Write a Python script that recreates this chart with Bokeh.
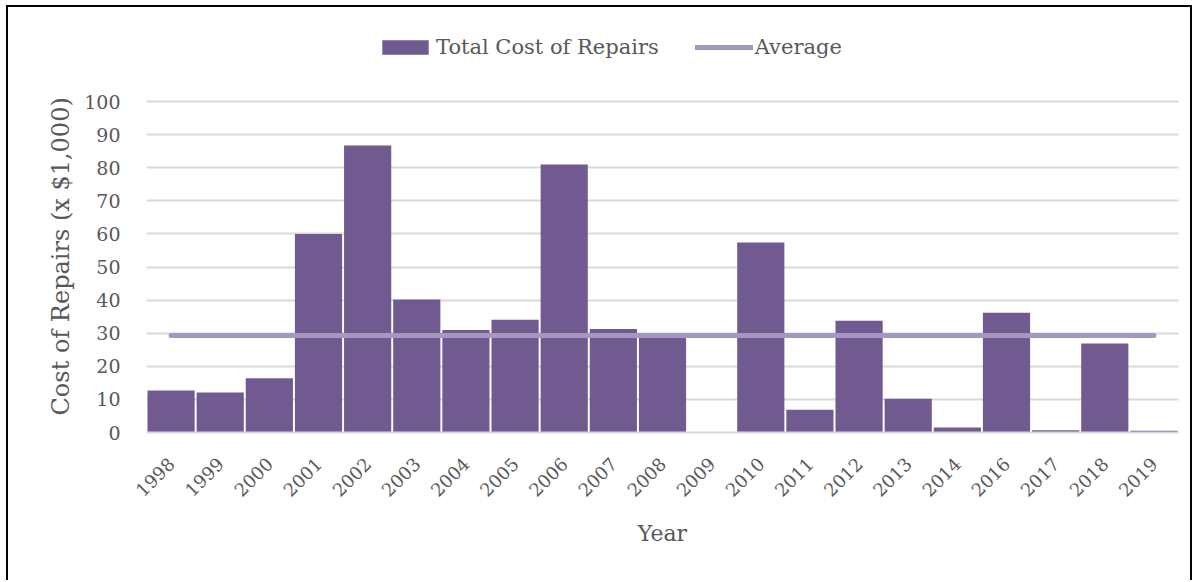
import math
from bokeh.plotting import figure
from bokeh.models import Range1d, Legend, LegendItem, ColumnDataSource, Title
from bokeh.embed import file_html
from bokeh.resources import INLINE

years = ["1998", "1999", "2000", "2001", "2002", "2003", "2004", "2005", "2006", "2007",
         "2008", "2009", "2010", "2011", "2012", "2013", "2014", "2016", "2017", "2018", "2019"]
total_cost = [12.7, 12.1, 16.4, 60.0, 86.7, 40.2, 31.0, 34.1, 81.0, 31.3,
              29.0, 0.0, 57.4, 6.9, 33.8, 10.2, 1.5, 36.2, 0.7, 26.9, 0.5]
average = [29.3] * len(years)
y_ticks = [0, 10, 20, 30, 40, 50, 60, 70, 80, 90, 100]

FONT = "DejaVu Serif"
TXT = "#595959"
BAR = "#705A8F"
AVG = "#A597C0"
GRID = "#D9D9D9"

# frame extends above the 100 line so the legend can sit inside it
p = figure(x_range=years, y_range=Range1d(0, 125.1), width=1186, height=575,
           output_backend="svg", toolbar_location=None,
           min_border_left=138, min_border_right=16, min_border_top=11, min_border_bottom=150)
p.styles = {"border-top": "2px solid black", "border-left": "2px solid black",
            "border-right": "2px solid black", "margin-left": "6px", "margin-top": "5px"}
p.outline_line_color = None

src = ColumnDataSource(dict(year=years, cost=total_cost, avg=average))
bars = p.vbar(x="year", top="cost", width=0.96, source=src, fill_color=BAR, line_color=None)
line = p.line(x="year", y="avg", source=src, line_color=AVG, line_width=5, line_cap="round")

p.yaxis.ticker = y_ticks
p.yaxis.axis_line_color = None
p.yaxis.major_tick_line_color = None
p.yaxis.minor_tick_line_color = None
p.yaxis.major_label_text_font = FONT
p.yaxis.major_label_text_font_size = "19px"
p.yaxis.major_label_text_color = TXT
p.yaxis.major_label_standoff = 20

# y-axis title placed along the 0-100 part of the axis
ytitle = Title(text="Cost of Repairs (x $1,000)", align="left", offset=17, standoff=14,
               text_font=FONT, text_font_size="24px", text_font_style="normal", text_color=TXT)
p.add_layout(ytitle, "left")

p.xaxis.axis_line_color = GRID
p.xaxis.axis_line_width = 2
p.xaxis.major_tick_line_color = None
p.xaxis.minor_tick_line_color = None
p.xaxis.major_label_orientation = math.pi / 4
p.xaxis.major_label_text_font = FONT
p.xaxis.major_label_text_font_size = "18px"
p.xaxis.major_label_text_color = TXT
p.xaxis.major_label_standoff = 22
p.xaxis.axis_label = "Year"
p.xaxis.axis_label_text_font = FONT
p.xaxis.axis_label_text_font_size = "22px"
p.xaxis.axis_label_text_font_style = "normal"
p.xaxis.axis_label_text_color = TXT
p.xaxis.axis_label_standoff = 15

p.xgrid.grid_line_color = None
p.ygrid.grid_line_color = GRID
p.ygrid.grid_line_width = 2

legend = Legend(items=[LegendItem(label="Total Cost of Repairs", renderers=[bars]),
                       LegendItem(label="Average", renderers=[line])],
                orientation="horizontal", location=(230, 373),
                padding=0, margin=0, spacing=36, label_standoff=2,
                glyph_width=58, glyph_height=18,
                border_line_color=None, background_fill_alpha=0,
                label_text_font=FONT, label_text_font_size="21px", label_text_color=TXT)
p.add_layout(legend, "center")

open("out.html", "w").write(file_html(p, INLINE))
